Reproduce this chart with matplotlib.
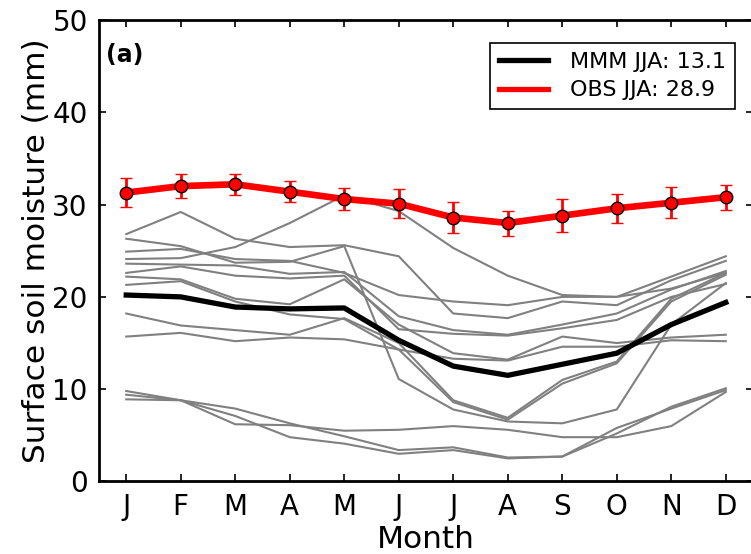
import matplotlib
matplotlib.use("Agg")
import matplotlib.pyplot as plt
from matplotlib.lines import Line2D
import numpy as np

plt.rcParams.update({
    "font.family": "DejaVu Sans",
    "font.size": 20,
})

months = np.arange(1, 13)
month_labels = ["J", "F", "M", "A", "M", "J", "J", "A", "S", "O", "N", "D"]

# individual models (grey)
model_01 = [26.8, 29.2, 26.3, 25.4, 25.6, 24.4, 18.2, 17.7, 19.5, 19.1, 21.8, 23.9]
model_02 = [24.1, 24.2, 25.4, 28.0, 31.0, 29.3, 25.3, 22.3, 20.2, 20.0, 22.2, 24.4]
model_03 = [26.3, 25.5, 23.7, 23.8, 25.5, 11.1, 7.8, 6.5, 6.3, 7.8, 17.0, 21.5]
model_04 = [24.9, 25.2, 24.1, 23.9, 22.6, 20.2, 19.5, 19.1, 20.0, 20.0, 20.9, 22.6]
model_05 = [23.6, 23.5, 23.4, 22.5, 22.7, 17.9, 16.4, 15.9, 17.0, 18.2, 20.8, 22.8]
model_06 = [22.6, 23.3, 22.3, 22.0, 22.3, 16.5, 16.0, 15.8, 16.6, 17.5, 20.0, 21.4]
model_07 = [22.2, 21.9, 19.8, 19.2, 21.9, 17.0, 13.9, 13.2, 15.7, 15.0, 15.6, 15.9]
model_08 = [21.3, 21.7, 19.5, 18.1, 17.6, 14.3, 13.3, 13.1, 14.6, 14.6, 15.3, 15.2]
model_09 = [18.2, 16.9, 16.4, 15.9, 17.7, 15.0, 8.8, 6.9, 11.0, 13.0, 19.8, 22.6]
model_10 = [15.7, 16.1, 15.2, 15.6, 15.4, 14.3, 8.6, 6.7, 10.6, 12.8, 19.5, 22.4]
model_11 = [9.8, 8.8, 7.9, 6.3, 4.9, 3.4, 3.7, 2.6, 2.7, 5.2, 8.1, 10.1]
model_12 = [9.4, 8.8, 7.1, 4.8, 4.1, 3.0, 3.4, 2.5, 2.7, 5.8, 7.9, 9.9]
model_13 = [8.9, 8.8, 6.2, 6.1, 5.5, 5.6, 6.0, 5.6, 4.8, 4.8, 6.0, 9.7]

models = [model_01, model_02, model_03, model_04, model_05, model_06, model_07,
          model_08, model_09, model_10, model_11, model_12, model_13]

mmm = [20.2, 20.0, 18.9, 18.7, 18.8, 15.3, 12.5, 11.5, 12.7, 13.9, 17.0, 19.4]
obs = [31.3, 32.0, 32.2, 31.4, 30.6, 30.1, 28.6, 28.0, 28.8, 29.6, 30.2, 30.8]
obs_err = [1.6, 1.3, 1.15, 1.15, 1.15, 1.6, 1.7, 1.35, 1.8, 1.6, 1.7, 1.35]

fig = plt.figure(figsize=(7.51, 5.54), dpi=100)
ax = fig.add_axes([0.1318, 0.1309, 0.8709, 0.833])

for m in models:
    ax.plot(months, m, color="#808080", lw=1.5, zorder=2)

ax.plot(months, mmm, color="black", lw=3.8, zorder=3)
ax.errorbar(months, obs, yerr=obs_err, color="red", lw=4.8, ecolor="red",
            elinewidth=2, capsize=4.5, capthick=2, marker="o", markersize=9,
            markerfacecolor="red", markeredgecolor="black", markeredgewidth=1,
            zorder=4)

ax.set_xlim(0.5, 12.5)
ax.set_ylim(0, 50)
ax.set_xticks(months)
ax.set_xticklabels(month_labels)
ax.set_yticks([0, 10, 20, 30, 40, 50])
ax.tick_params(direction="in", length=5, width=1.2, top=True, right=True, pad=8)
for s in ax.spines.values():
    s.set_linewidth(2)

ax.set_xlabel("Month", fontsize=22.5, labelpad=3)
ax.set_ylabel("Surface soil moisture (mm)", fontsize=22.5, labelpad=1)

ax.text(0.01, 0.924, "(a)", transform=ax.transAxes, fontsize=17,
        fontweight="bold", va="center", ha="left")

handles = [Line2D([], [], color="black", lw=3.8),
           Line2D([], [], color="red", lw=3.8)]
leg = ax.legend(handles, ["MMM JJA: 13.1", "OBS JJA: 28.9"], loc="upper right",
                bbox_to_anchor=(0.99, 0.975), fontsize=16, fancybox=False,
                framealpha=1, edgecolor="black", handlelength=2.2,
                handletextpad=1.0, borderpad=0.4, labelspacing=0.4)
leg.get_frame().set_linewidth(1.2)

fig.savefig("out.png", dpi=100)
